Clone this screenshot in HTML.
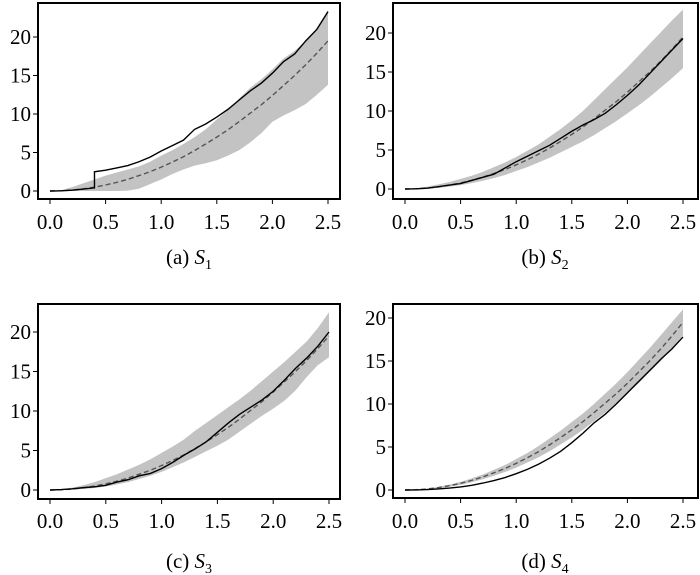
<!DOCTYPE html>
<html><head><meta charset="utf-8"><style>
html,body{margin:0;padding:0;background:#fff;}
svg{display:block;font-family:"Liberation Serif",serif;}
</style></head><body>
<svg id="chart" width="700" height="575" viewBox="0 0 700 575" xmlns="http://www.w3.org/2000/svg"></svg>
<script>
const tVals=[0,0.1,0.2,0.3,0.4,0.5,0.6,0.7,0.8,0.9,1.0,1.1,1.2,1.3,1.4,1.5,1.6,1.7,1.8,1.9,2.0,2.1,2.2,2.3,2.4,2.5];
const xTickLabels=["0.0","0.5","1.0","1.5","2.0","2.5"];
const xTickValues=[0,0.5,1,1.5,2,2.5];
const yTickLabels=["0","5","10","15","20"];
const yTickValues=[0,5,10,15,20];
const meanA=[0,0.03,0.12,0.28,0.5,0.78,1.12,1.52,2.0,2.5,3.1,3.75,4.45,5.25,6.1,7.0,7.95,9.0,10.1,11.2,12.4,13.7,15.0,16.4,17.9,19.5];
const lowA=[0,0,0,0,0,0,0,0.05,0.3,0.9,1.5,2.2,2.8,3.3,3.6,4.0,4.6,5.3,6.3,7.5,9.0,9.8,10.5,11.3,12.5,13.8];
const highA=[0,0.1,0.5,1.0,1.5,2.0,2.4,2.8,3.2,3.8,4.6,5.3,6.1,7.0,8.0,9.3,10.5,12.0,13.4,14.5,15.8,17.2,18.2,19.5,21.0,23.5];
const obsA=[0,0.02,0.1,0.25,2.5,2.7,3.0,3.3,3.8,4.4,5.2,5.9,6.6,8.0,8.7,9.6,10.6,11.8,13.0,14.0,15.3,16.8,17.8,19.5,21.0,23.3];
const meanB=[0,0.03,0.12,0.28,0.5,0.78,1.12,1.52,2.0,2.5,3.1,3.75,4.45,5.25,6.1,7.0,7.95,9.0,10.1,11.2,12.4,13.7,15.0,16.4,17.9,19.5];
const lowB=[0,0,0.05,0.15,0.3,0.5,0.75,1.05,1.4,1.8,2.3,2.8,3.4,4.0,4.7,5.4,6.1,6.9,7.8,8.7,9.7,10.7,11.8,13.0,14.2,15.5];
const highB=[0,0.1,0.3,0.6,0.9,1.3,1.7,2.2,2.8,3.4,4.1,4.9,5.7,6.7,7.7,8.8,10.0,11.4,12.8,14.2,15.6,17.1,18.6,20.1,21.6,23.0];
const obsB=[0,0.02,0.1,0.3,0.5,0.7,1.1,1.5,1.9,2.7,3.5,4.2,4.9,5.6,6.5,7.4,8.2,8.9,9.7,10.8,12.0,13.3,14.8,16.3,17.8,19.3];
const meanC=[0,0.03,0.12,0.28,0.5,0.78,1.12,1.52,2.0,2.5,3.1,3.75,4.45,5.25,6.1,7.0,7.95,9.0,10.1,11.2,12.4,13.7,15.0,16.4,17.9,19.5];
const lowC=[0,0,0.05,0.15,0.25,0.45,0.7,1.0,1.4,1.8,2.3,2.9,3.5,4.2,4.9,5.6,6.4,7.4,8.4,9.4,10.3,11.3,12.6,14.3,15.8,16.8];
const highC=[0,0.1,0.3,0.6,1.0,1.5,2.0,2.6,3.2,3.9,4.7,5.5,6.4,7.5,8.5,9.5,10.5,11.5,12.6,13.8,15.0,16.2,17.5,18.8,20.5,22.5];
const obsC=[0,0.05,0.15,0.3,0.4,0.6,1.0,1.3,1.8,2.1,2.7,3.5,4.4,5.2,6.1,7.3,8.5,9.6,10.5,11.4,12.5,13.9,15.4,16.7,18.2,20.0];
const meanD=[0,0.03,0.12,0.28,0.5,0.78,1.12,1.52,2.0,2.5,3.1,3.75,4.45,5.25,6.1,7.0,7.95,9.0,10.1,11.2,12.4,13.7,15.0,16.4,17.9,19.5];
const lowD=[0,0.02,0.08,0.2,0.38,0.6,0.9,1.25,1.65,2.1,2.6,3.2,3.8,4.5,5.3,6.1,7.0,8.0,9.0,10.1,11.2,12.4,13.7,15.0,16.5,18.0];
const highD=[0,0.05,0.16,0.36,0.62,0.95,1.35,1.8,2.35,2.9,3.6,4.3,5.1,6.0,6.9,7.9,8.9,10.0,11.2,12.4,13.7,15.1,16.5,18.0,19.5,21.0];
const obsD=[0,0.01,0.05,0.12,0.22,0.35,0.55,0.8,1.1,1.45,1.9,2.4,3.0,3.7,4.5,5.5,6.6,7.8,8.8,10.0,11.3,12.6,13.9,15.2,16.4,17.8];

const layouts=[
 {id:"a",sub:"1",box:[38,3,340,199],x0:50,x25:328,y0:191,y20:37,tickY:229,capY:264,capX:189,mean:meanA,low:lowA,high:highA,obs:obsA,jump:4},
 {id:"b",sub:"2",box:[393,3,698,199],x0:405,x25:683,y0:189,y20:33,tickY:229,capY:264,capX:545,mean:meanB,low:lowB,high:highB,obs:obsB,jump:-1},
 {id:"c",sub:"3",box:[38,304,340,499],x0:50,x25:329,y0:490,y20:332,tickY:528,capY:568,capX:189,mean:meanC,low:lowC,high:highC,obs:obsC,jump:-1},
 {id:"d",sub:"4",box:[393,304,698,498],x0:405,x25:683,y0:490,y20:318,tickY:528,capY:568,capX:545,mean:meanD,low:lowD,high:highD,obs:obsD,jump:-1}
];
const NS="http://www.w3.org/2000/svg";
const svg=document.getElementById('chart');
function mk(tag,attrs,parent){const e=document.createElementNS(NS,tag);for(const k in attrs)e.setAttribute(k,attrs[k]);parent.appendChild(e);return e;}
layouts.forEach(L=>{
 const g=mk('g',{},svg);
 
 
 const sx=v=>L.x0+(L.x25-L.x0)*v/2.5;
 const sy=v=>L.y0+(L.y20-L.y0)*v/20;
 let pts=tVals.map((t,i)=>sx(t)+','+sy(L.high[i]));
 pts=pts.concat(tVals.map((t,i)=>sx(t)+','+sy(L.low[i])).reverse());
 const band=mk('polygon',{points:pts.join(' '),fill:'#c3c3c3',stroke:'none'},g);
 
 
 const mean=mk('polyline',{points:tVals.map((t,i)=>sx(t)+','+sy(L.mean[i])).join(' '),fill:'none',stroke:'#555','stroke-width':1.4,'stroke-dasharray':'5,3'},g);
 
 
 let op=[];
 tVals.forEach((t,i)=>{
  if(i===L.jump){const prev=L.obs[i-1];op.push(sx(t)+','+sy(prev+(prev-(L.obs[i-2]||0))));}
  op.push(sx(t)+','+sy(L.obs[i]));
 });
 const obs=mk('polyline',{points:op.join(' '),fill:'none',stroke:'#000','stroke-width':1.4},g);
 
 
 const b=L.box;
 const frame=mk('rect',{x:b[0],y:b[1],width:b[2]-b[0],height:b[3]-b[1],fill:'none',stroke:'#000','stroke-width':2},g);
 
 
 xTickValues.forEach((v,i)=>{
  mk('line',{x1:sx(v),x2:sx(v),y1:b[3],y2:b[3]+5,stroke:'#000','stroke-width':1},g);
  const tx=mk('text',{x:sx(v),y:L.tickY,'text-anchor':'middle','font-size':21,fill:'#000'},g);
  tx.textContent=xTickLabels[i];
  
  
 });
 yTickValues.forEach((v,i)=>{
  mk('line',{x1:b[0]-5,x2:b[0],y1:sy(v),y2:sy(v),stroke:'#000','stroke-width':1},g);
  const ty=mk('text',{x:b[0]-7,y:sy(v)+7,'text-anchor':'end','font-size':21,fill:'#000'},g);
  ty.textContent=yTickLabels[i];
  
  
 });
 const cap=mk('text',{x:L.capX,y:L.capY,'text-anchor':'middle','font-size':21,fill:'#000'},g);
 
 
 const t1=mk('tspan',{},cap);t1.textContent='('+L.id+') ';
 const t2=mk('tspan',{'font-style':'italic'},cap);t2.textContent='S';
 const t3=mk('tspan',{'font-size':14,dy:5},cap);t3.textContent=L.sub;
});
</script>
</body></html>
